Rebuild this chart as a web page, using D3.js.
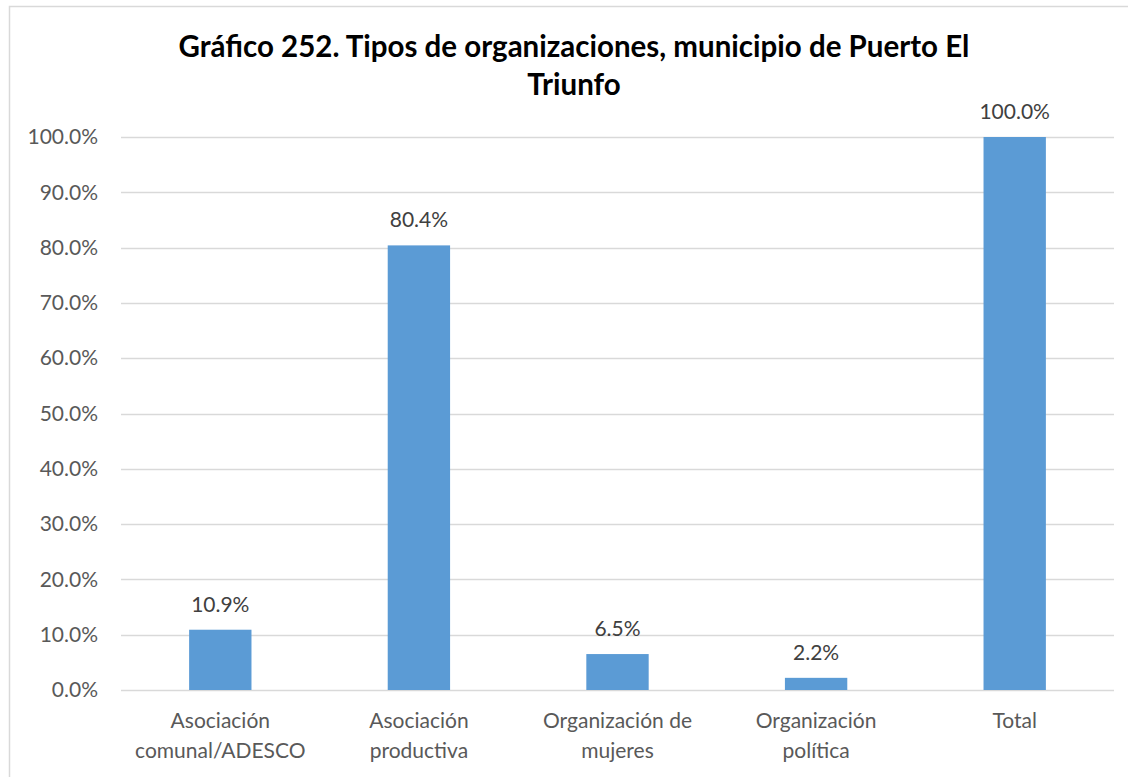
<!DOCTYPE html>
<html>
<head>
<meta charset="utf-8">
<script src="https://cdn.jsdelivr.net/npm/d3@7"></script>
<style>
  body { margin: 0; background: #fff; }
  text { font-family: Lato, "Open Sans", sans-serif; }
</style>
</head>
<body>
<div id="chart"></div>
<script>
const categories = [
  ['Asociación', 'comunal/ADESCO'],
  ['Asociación', 'productiva'],
  ['Organización de', 'mujeres'],
  ['Organización', 'política'],
  ['Total']
];
const values = [10.9, 80.4, 6.5, 2.2, 100.0];
const yTicks = [0, 10, 20, 30, 40, 50, 60, 70, 80, 90, 100];
const titleLines = ['Gráfico 252. Tipos de organizaciones, municipio de Puerto El', 'Triunfo'];

const width = 1128;
const height = 777;
const margin = { top: 137, bottom: 87, left: 121, right: 14 };

const svg = d3.select('#chart')
  .append('svg')
  .attr('width', width)
  .attr('height', height);

// chart frame
svg.append('rect')
  .attr('x', 9.5).attr('y', 6.5)
  .attr('width', width + 20).attr('height', height + 20)
  .attr('fill', 'none')
  .attr('stroke', '#d9d9d9')
  .attr('stroke-width', 1.5);

const x = d3.scaleBand()
  .domain(d3.range(values.length))
  .range([margin.left, width - margin.right])
  .paddingInner(0.686)
  .paddingOuter(0.343);

const y = d3.scaleLinear()
  .domain([0, 100])
  .range([height - margin.bottom, margin.top]);

// gridlines
svg.append('g')
  .selectAll('line')
  .data(yTicks)
  .join('line')
    .attr('x1', margin.left)
    .attr('x2', width - margin.right)
    .attr('y1', d => Math.round(y(d)) + 0.5)
    .attr('y2', d => Math.round(y(d)) + 0.5)
    .attr('stroke', '#d9d9d9')
    .attr('stroke-width', 1.5);

// y axis labels
const yAxis = g => g
  .attr('transform', `translate(${margin.left - 20},0)`)
  .call(d3.axisLeft(y).tickValues(yTicks).tickFormat(d => d.toFixed(1) + '%').tickSize(0))
  .call(g => g.select('.domain').remove())
  .call(g => g.selectAll('text')
    .attr('fill', '#595959')
    .attr('font-size', '21px')
    .attr('font-family', 'Lato, "Open Sans", sans-serif'));
svg.append('g').call(yAxis);

// bars
svg.append('g')
  .attr('fill', '#5b9bd5')
  .selectAll('rect')
  .data(values)
  .join('rect')
    .attr('x', (d, i) => x(i))
    .attr('y', d => y(d))
    .attr('width', x.bandwidth())
    .attr('height', d => y(0) - y(d));

// value labels
svg.append('g')
  .selectAll('text')
  .data(values)
  .join('text')
    .attr('x', (d, i) => x(i) + x.bandwidth() / 2)
    .attr('y', d => y(d) - 18)
    .attr('text-anchor', 'middle')
    .attr('fill', '#404040')
    .attr('font-size', '21px')
    .text(d => d.toFixed(1) + '%');

// category labels
const cat = svg.append('g')
  .selectAll('text')
  .data(categories)
  .join('text')
    .attr('text-anchor', 'middle')
    .attr('fill', '#595959')
    .attr('font-size', '21px')
    .attr('transform', (d, i) => `translate(${x(i) + x.bandwidth() / 2},${y(0) + 38})`);
cat.selectAll('tspan')
  .data(d => d)
  .join('tspan')
    .attr('x', 0)
    .attr('dy', (d, i) => i === 0 ? 0 : 30)
    .text(d => d);

// title
svg.append('text')
  .attr('text-anchor', 'middle')
  .attr('font-size', '29.5px')
  .attr('font-weight', 'bold')
  .attr('fill', '#000')
  .selectAll('tspan')
  .data(titleLines)
  .join('tspan')
    .attr('x', 574)
    .attr('y', (d, i) => 57 + i * 38)
    .text(d => d);
</script>
</body>
</html>
